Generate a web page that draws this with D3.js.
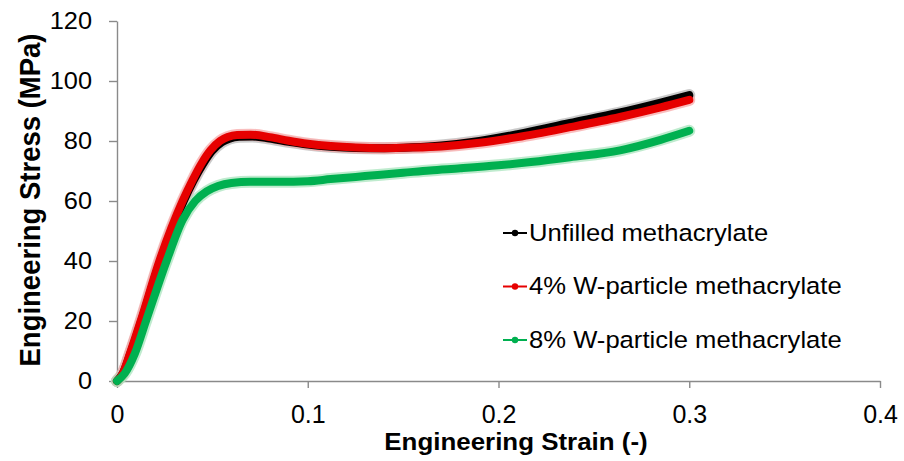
<!DOCTYPE html>
<html lang="en">
<head>
<meta charset="UTF-8">
<title>Engineering Stress vs Engineering Strain</title>
<script src="https://d3js.org/d3.v7.min.js"></script>
<style>
    body { margin: 0; background: #fff; }
    svg { display: block; font-family: "Liberation Sans", Arial, sans-serif; }
    .axis path, .axis line { stroke: #8a8a8a; stroke-width: 1.4; }
    .axis text { fill: #000; }
    .curve { fill: none; stroke-linecap: round; stroke-linejoin: round; }
</style>
</head>
<body>
<svg width="904" height="461"></svg>
<script>
    // series names (legend order)
    const seriesNames = ["Unfilled methacrylate", "4% W-particle methacrylate", "8% W-particle methacrylate"];

    // [strain, stress MPa]
    const unfilled = [[0,0],[0.003,2.5],[0.007,9.2],[0.0127,20],[0.0226,40],[0.035,60],[0.04,66.6],
        [0.045,72.2],[0.0495,76.4],[0.055,79.6],[0.059,80.8],[0.064,81.4],[0.071,81.5],[0.08,80.8],
        [0.09,79.7],[0.1,78.8],[0.112,78.1],[0.125,77.7],[0.14,77.6],[0.155,77.9],[0.17,78.5],
        [0.19,80],[0.21,82.3],[0.2375,86],[0.2637,89.5],[0.285,92.8],[0.3,95.3]];
    const wParticle4 = [[0,0],[0.003,2.5],[0.0068,9.2],[0.0124,20],[0.0222,40],[0.0344,60],[0.0395,66.8],
        [0.0444,72.6],[0.049,76.9],[0.054,80],[0.058,81.3],[0.063,82],[0.07,82.1],[0.08,81.3],
        [0.09,80.1],[0.1,79.1],[0.112,78.3],[0.125,77.8],[0.14,77.6],[0.155,77.8],[0.17,78.2],
        [0.19,79.4],[0.21,81.3],[0.2375,84.6],[0.2637,88],[0.285,91.2],[0.3,93.7]];
    const wParticle8 = [[0,0],[0.004,2.5],[0.0094,9.2],[0.0152,20],[0.026,40],[0.0344,53.7],[0.041,60],
        [0.047,63.2],[0.053,65],[0.06,66],[0.07,66.4],[0.085,66.4],[0.1,66.6],[0.112,67.3],
        [0.13,68.3],[0.15,69.4],[0.164,70.2],[0.18,70.9],[0.2,71.9],[0.217,73],[0.2375,74.6],
        [0.2637,76.9],[0.285,80.4],[0.3,83.4]];

    const xTicks = [0, 0.1, 0.2, 0.3, 0.4];
    const yTicks = [0, 20, 40, 60, 80, 100, 120];

    const series = [unfilled, wParticle4, wParticle8];
    const colors = ["#000000", "#e60000", "#00b050"];
    const haloColors = ["#b9b9b9", "#f7a8a8", "#a9e4bd"];

    const svg = d3.select("svg");
    const x = d3.scaleLinear().domain([0, 0.4]).range([117, 880]);
    const y = d3.scaleLinear().domain([0, 120]).range([381, 21]);

    // x axis
    svg.append("g")
        .attr("class", "axis")
        .attr("transform", "translate(0,381)")
        .call(d3.axisBottom(x).tickValues(xTicks).tickFormat(d => String(d))
            .tickSize(7).tickSizeOuter(0).tickPadding(17))
        .attr("font-size", 25)
        .attr("font-family", null);

    // y axis, labels slightly wider than the font
    const yAxis = svg.append("g")
        .attr("class", "axis")
        .attr("transform", "translate(117,0)")
        .call(d3.axisLeft(y).tickValues(yTicks).tickSize(8).tickSizeOuter(0))
        .attr("font-size", 23.5)
        .attr("font-family", null);
    yAxis.selectAll(".tick text")
        .attr("x", -25 / 1.08)
        .attr("transform", "scale(1.08,1)");

    // curves
    const line = d3.line()
        .x(d => x(d[0]))
        .y(d => y(d[1]))
        .curve(d3.curveMonotoneX);

    svg.append("g").selectAll("path")
        .data(series)
        .join("path")
        .attr("class", "curve")
        .attr("d", line)
        .attr("stroke", (d, i) => haloColors[i])
        .attr("stroke-width", 12)
        .attr("opacity", 0.75);

    svg.append("g").selectAll("path")
        .data(series)
        .join("path")
        .attr("class", "curve")
        .attr("d", line)
        .attr("stroke", (d, i) => colors[i])
        .attr("stroke-width", 8);

    // legend
    const legend = svg.append("g").selectAll("g")
        .data(seriesNames)
        .join("g")
        .attr("transform", (d, i) => `translate(503,${233 + i * 53.5})`);

    legend.append("line")
        .attr("x1", 0).attr("x2", 24)
        .attr("stroke", (d, i) => colors[i])
        .attr("stroke-width", 2);

    legend.append("circle")
        .attr("cx", 12)
        .attr("r", 3.2)
        .attr("fill", (d, i) => colors[i]);

    legend.append("text")
        .attr("transform", "translate(26,7.5) scale(1.09,1)")
        .attr("font-size", 23.5)
        .attr("fill", "#000")
        .text(d => d);

    // axis titles
    svg.append("text")
        .attr("transform", "translate(516,450) scale(1.08,1)")
        .attr("text-anchor", "middle")
        .attr("font-size", 24)
        .attr("font-weight", "bold")
        .text("Engineering Strain (-)");

    svg.append("text")
        .attr("transform", "translate(40,200) scale(1.08,1) rotate(-90)")
        .attr("text-anchor", "middle")
        .attr("font-size", 27.5)
        .attr("font-weight", "bold")
        .text("Engineering Stress (MPa)");
</script>
</body>
</html>
